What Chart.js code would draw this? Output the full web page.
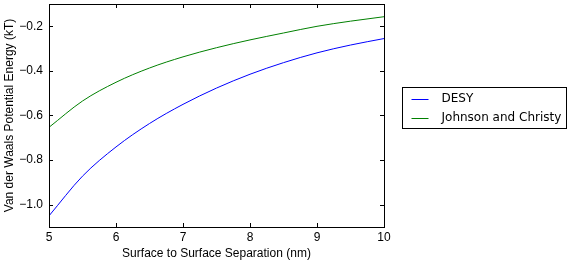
<!DOCTYPE html>
<html>
<head>
<meta charset="utf-8">
<script src="https://cdn.jsdelivr.net/npm/chart.js@4/dist/chart.umd.min.js"></script>
<style>
  html, body { margin: 0; padding: 0; background: #fff; }
  #wrap { width: 573px; height: 263px; position: relative; }
</style>
</head>
<body>
<div id="wrap"><canvas id="myChart"></canvas></div>
<script>
const separation = [5, 5.5, 6, 6.5, 7, 7.5, 8, 8.5, 9, 9.5, 10];
const desy = [-1.05, -0.872, -0.741, -0.636, -0.550, -0.477, -0.415, -0.363, -0.319, -0.284, -0.255];
const johnsonChristy = [-0.653, -0.535, -0.451, -0.387, -0.337, -0.296, -0.261, -0.230, -0.200, -0.177, -0.157];
const xTicks = [5, 6, 7, 8, 9, 10];
const yTicks = [-1.0, -0.8, -0.6, -0.4, -0.2];

const tickFont = { family: 'Liberation Sans, Arial, sans-serif', size: 12 };
const titleFont = { family: 'Liberation Sans, Arial, sans-serif', size: 12 };

// matplotlib style frame + inward ticks on all four sides, and boxed legend
const frameAndLegend = {
  id: 'frameAndLegend',
  afterDraw(chart) {
    const c = chart.ctx, a = chart.chartArea;
    const xs = chart.scales.x, ys = chart.scales.y;
    c.save();
    c.strokeStyle = '#000';
    c.lineWidth = 1;
    c.beginPath();
    xTicks.forEach(v => {
      const px = Math.round(xs.getPixelForValue(v)) + 0.5;
      c.moveTo(px, a.top); c.lineTo(px, a.top + 4);
      c.moveTo(px, a.bottom); c.lineTo(px, a.bottom - 4);
    });
    yTicks.forEach(v => {
      const py = Math.round(ys.getPixelForValue(v)) + 0.5;
      c.moveTo(a.left, py); c.lineTo(a.left + 4, py);
      c.moveTo(a.right, py); c.lineTo(a.right - 4, py);
    });
    c.stroke();
    c.strokeRect(Math.round(a.left) + 0.5, Math.round(a.top) + 0.5,
                 Math.round(a.right - a.left), Math.round(a.bottom - a.top));

    // legend box
    const lx = 402.5, ly = 87.5, lw = 164, lh = 41;
    c.strokeRect(lx, ly, lw, lh);
    c.font = '12px "DejaVu Sans", sans-serif';
    c.textBaseline = 'middle';
    chart.data.datasets.forEach((ds, i) => {
      const yy = ly + 11 + i * 19;
      c.strokeStyle = ds.borderColor;
      c.beginPath();
      c.moveTo(lx + 9, Math.round(yy) + 0.5);
      c.lineTo(lx + 26, Math.round(yy) + 0.5);
      c.stroke();
      c.fillStyle = '#000';
      c.fillText(ds.label, lx + 39, yy);
    });
    c.restore();
  }
};

new Chart(document.getElementById('myChart').getContext('2d'), {
  type: 'line',
  data: {
    labels: separation,
    datasets: [{
      label: 'DESY',
      data: separation.map((x, i) => ({ x: x, y: desy[i] })),
      borderColor: '#0000ff',
      borderWidth: 1,
      pointRadius: 0,
      cubicInterpolationMode: 'monotone',
      fill: false
    }, {
      label: 'Johnson and Christy',
      data: separation.map((x, i) => ({ x: x, y: johnsonChristy[i] })),
      borderColor: '#008000',
      borderWidth: 1,
      pointRadius: 0,
      cubicInterpolationMode: 'monotone',
      fill: false
    }]
  },
  options: {
    responsive: true,
    maintainAspectRatio: false,
    animation: false,
    layout: { padding: { left: 0, right: 189, top: 4, bottom: 0 } },
    plugins: { legend: { display: false }, tooltip: { enabled: false } },
    scales: {
      x: {
        type: 'linear',
        min: 5, max: 10,
        grid: { display: false, drawTicks: false },
        border: { display: false },
        afterBuildTicks: s => { s.ticks = xTicks.map(v => ({ value: v })); },
        afterFit: s => { s.height = 36; s.paddingLeft = 0; s.paddingRight = 0; },
        ticks: { color: '#000', font: tickFont, padding: 3, maxRotation: 0 },
        title: { display: true, text: 'Surface to Surface Separation (nm)', color: '#000', font: titleFont, padding: { top: 0, bottom: 2 } }
      },
      y: {
        min: -1.1, max: -0.1,
        grid: { display: false, drawTicks: false },
        border: { display: false },
        afterBuildTicks: s => { s.ticks = yTicks.map(v => ({ value: v })); },
        afterFit: s => { s.width = 49; s.paddingTop = 0; s.paddingBottom = 0; },
        ticks: {
          color: '#000', font: tickFont, padding: 6,
          callback: v => v.toFixed(1).replace('-', '\u2212')
        },
        title: { display: true, text: 'Van der Waals Potential Energy (kT)', color: '#000', font: titleFont, padding: { top: 2, bottom: 2 } }
      }
    }
  },
  plugins: [frameAndLegend]
});
</script>
</body>
</html>
